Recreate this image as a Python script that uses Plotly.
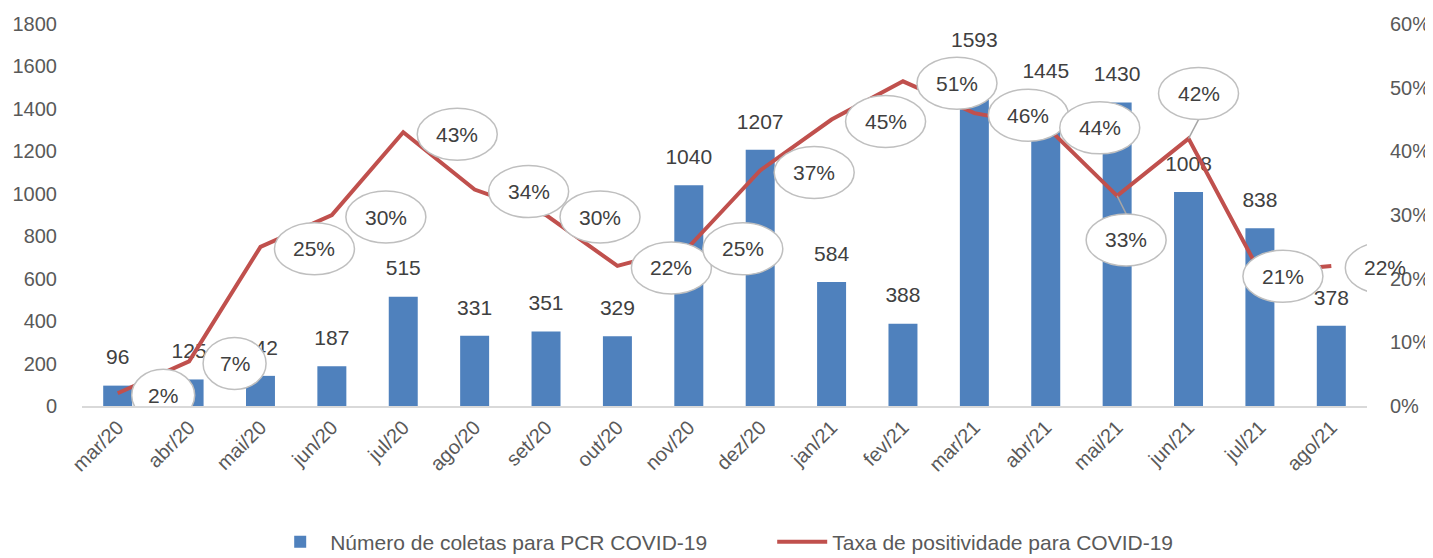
import plotly.graph_objects as go

months = ["mar/20", "abr/20", "mai/20", "jun/20", "jul/20", "ago/20", "set/20", "out/20",
          "nov/20", "dez/20", "jan/21", "fev/21", "mar/21", "abr/21", "mai/21", "jun/21",
          "jul/21", "ago/21"]
coletas = [96, 125, 142, 187, 515, 331, 351, 329, 1040, 1207, 584, 388, 1593, 1445, 1430,
           1008, 838, 378]
positividade = [0.02, 0.07, 0.25, 0.30, 0.43, 0.34, 0.30, 0.22, 0.25, 0.37, 0.45, 0.51,
                0.46, 0.44, 0.33, 0.42, 0.21, 0.22]
left_ticks = [0, 200, 400, 600, 800, 1000, 1200, 1400, 1600, 1800]
right_ticks = [0, 0.1, 0.2, 0.3, 0.4, 0.5, 0.6]

BAR = "#4F81BD"
LINE = "#C0504D"
TXT = "#404040"
AX = "#595959"
FONT = "Liberation Sans"

# callout offsets in pixels (dx right, dy up) relative to line point; default = right of point
special = {14: (9, -44, True), 15: (10, 45, True), 16: (23, -4, False)}

fig = go.Figure()
fig.add_trace(go.Bar(x=months, y=coletas, name="Número de coletas para PCR COVID-19",
                     marker=dict(color=BAR, line=dict(width=0)), yaxis="y"))
fig.add_trace(go.Scatter(x=months, y=positividade, name="Taxa de positividade para COVID-19",
                         mode="lines", line=dict(color=LINE, width=4), yaxis="y2"))
fig.add_trace(go.Scatter(x=months, y=coletas, mode="markers+text", text=[str(v) for v in coletas],
                         textposition="top center", showlegend=False, hoverinfo="skip",
                         marker=dict(size=24, opacity=0),
                         textfont=dict(size=21, color=TXT, family=FONT), yaxis="y"))

shapes = []
annotations = []
for i, p in enumerate(positividade):
    label = f"{round(p * 100)}%"
    w = 63 if len(label) == 2 else 80
    h = 52
    dx, dy, leader = special.get(i, (w / 2 + 14, -2, False))
    if leader:
        edge = dy + h / 2 if dy < 0 else dy - h / 2
        shapes.append(dict(type="line", xref="x", yref="y2", xsizemode="pixel", ysizemode="pixel",
                           xanchor=i, yanchor=p, x0=0, y0=0, x1=dx, y1=edge,
                           line=dict(color="#A6A6A6", width=1.5), layer="above"))
    shapes.append(dict(type="circle", xref="x", yref="y2", xsizemode="pixel", ysizemode="pixel",
                       xanchor=i, yanchor=p, x0=dx - w / 2, x1=dx + w / 2,
                       y0=dy - h / 2, y1=dy + h / 2,
                       fillcolor="white", line=dict(color="#BFBFBF", width=1.5), layer="above"))
    annotations.append(dict(x=i, y=p, xref="x", yref="y2", text=label, showarrow=False,
                            xshift=dx, yshift=dy, font=dict(size=21, color=TXT, family=FONT)))

# the page body adds an 8px margin; the figure is sized and offset to compensate
fig.update_layout(
    width=1425, height=550,
    margin=dict(l=74, r=66, t=16, b=152),
    paper_bgcolor="white", plot_bgcolor="white",
    font=dict(family=FONT, color=AX, size=20),
    bargap=0.594,
    showlegend=True,
    legend=dict(orientation="h", x=0.184, xanchor="left", xref="container",
                y=0.066, yanchor="top", yref="container",
                font=dict(size=21, color=AX, family=FONT), itemwidth=50,
                entrywidth=437, entrywidthmode="pixels",
                traceorder="normal"),
    xaxis=dict(type="category", tickangle=-45, showline=True, linecolor="#D9D9D9", linewidth=1.5,
               showgrid=False, ticks="", tickfont=dict(size=20, color=AX),
               range=[-0.5, 17.5], automargin=False),
    yaxis=dict(range=[0, 1800], tickvals=left_ticks, showgrid=False, zeroline=False,
               showline=False, ticks="", ticklabelstandoff=24, automargin=False,
               tickfont=dict(size=20, color=AX)),
    yaxis2=dict(range=[0, 0.6], tickvals=right_ticks, tickformat=".0%", overlaying="y",
                side="right", showgrid=False, zeroline=False, showline=False, ticks="",
                ticklabelstandoff=22, automargin=False, tickfont=dict(size=20, color=AX)),
    shapes=shapes,
    annotations=annotations,
)

fig.write_html("out.html")
